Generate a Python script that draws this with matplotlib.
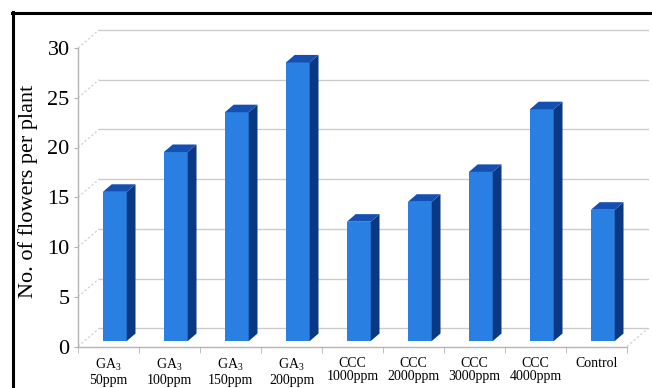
import matplotlib
matplotlib.use("Agg")
import matplotlib.pyplot as plt
from matplotlib.patches import Polygon
from matplotlib.lines import Line2D

plt.rcParams["font.family"] = ["Liberation Serif", "DejaVu Serif"]
plt.rcParams["mathtext.fontset"] = "custom"
plt.rcParams["mathtext.rm"] = "Liberation Serif"

# treatments and flower counts
groups = ["GA$_\\mathregular{3}$", "GA$_\\mathregular{3}$", "GA$_\\mathregular{3}$", "GA$_\\mathregular{3}$",
          "CCC", "CCC", "CCC", "CCC", "Control"]
doses = ["50ppm", "100ppm", "150ppm", "200ppm",
         "1000ppm", "2000ppm", "3000ppm", "4000ppm", ""]
flowers = [15, 19, 23, 28, 12, 14, 17, 23.3, 13.2]
yticks = [0, 5, 10, 15, 20, 25, 30]

# pseudo-3d geometry (data units)
DX = 0.344       # depth shift along x
DY = 1.81        # depth shift along y
front = 0.30     # depth of bar front face
depth = 0.42     # bar depth
width = 0.39

c_front = "#2a7fe2"
c_side = "#0a3882"
c_top = "#154fb2"
c_grid = "#cccccc"

W, H = 652, 388
fig = plt.figure(figsize=(W / 100, H / 100), dpi=100)
ax = fig.add_axes([78 / W, (H - 346.5) / H, 549 / W, 298.5 / H])
ax.set_xlim(0, 9)
ax.set_ylim(0, 30)

# back wall, left wall and floor lines
for v in yticks:
    ax.plot([DX, 9 + DX], [v + DY, v + DY], color=c_grid, lw=1, clip_on=False, zorder=1)
    ax.plot([0, DX], [v, v + DY], color=c_grid, lw=0.8, ls=(0, (2, 2)), clip_on=False, zorder=1)
ax.plot([9, 9 + DX], [0, DY], color=c_grid, lw=0.8, ls=(0, (2, 2)), clip_on=False, zorder=1)

n = len(flowers)
xs = [i + 0.5 for i in range(n)]
ox, oy = front * DX, front * DY
bx, by = depth * DX, depth * DY

ax.bar([x + ox for x in xs], flowers, width=width, bottom=oy, color=c_front,
       edgecolor="none", zorder=3, clip_on=False)
for x, v in zip(xs, flowers):
    x0 = x + ox - width / 2
    x1 = x + ox + width / 2
    side = [(x1, oy), (x1 + bx, oy + by), (x1 + bx, v + oy + by), (x1, v + oy)]
    top = [(x0, v + oy), (x1, v + oy), (x1 + bx, v + oy + by), (x0 + bx, v + oy + by)]
    ax.add_patch(Polygon(side, closed=True, fc=c_side, ec="none", zorder=3, clip_on=False))
    ax.add_patch(Polygon(top, closed=True, fc=c_top, ec="none", zorder=3, clip_on=False))

for s in ["top", "right"]:
    ax.spines[s].set_visible(False)
for s in ["left", "bottom"]:
    ax.spines[s].set_color("#b4b4b4")
    ax.spines[s].set_linewidth(1)

ax.set_yticks(yticks)
ax.tick_params(axis="y", length=3, color="#b4b4b4", labelsize=16, pad=3)

ax.set_xticks(xs)
ax.set_xticklabels([g + "\n" + d if d else g for g, d in zip(groups, doses)],
                   fontsize=10, linespacing=1.05, va="top")
ax.tick_params(axis="x", length=0, pad=7.5)
ax.set_xticks(range(n + 1), minor=True)
ax.tick_params(axis="x", which="minor", length=4, color="#b4b4b4")

fig.text(28 / W, 1 - 191 / H, "No. of flowers per plant", rotation=90,
         ha="center", va="center", fontsize=16)

# frame
fig.add_artist(Line2D([13 / W, 13 / W], [0, 1 - 12 / H], color="black", lw=2.2))
fig.add_artist(Line2D([12 / W, 1], [1 - 13 / H, 1 - 13 / H], color="black", lw=2.2))

fig.savefig("out.png", dpi=100)
